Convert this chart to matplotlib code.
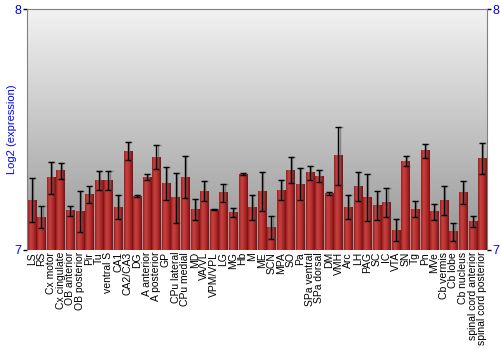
import numpy as np
import matplotlib
matplotlib.use("Agg")
import matplotlib.pyplot as plt
from matplotlib.colors import LinearSegmentedColormap

categories = ["LS", "RS", "Cx motor", "Cx cingulate", "OB anterior", "OB posterior", "Pir", "Tu",
              "ventral S", "CA1", "CA2/CA3", "DG", "A anterior", "A posterior", "GP",
              "CPu lateral", "CPu medial", "MD", "VA/VL", "VPM/VPL", "LG", "MG", "Hb", "M",
              "ME", "SCN", "MPA", "SO", "Pa", "SPa ventral", "SPa dorsal", "DM",
              "VMH", "Arc", "LH", "PAG", "SC", "IC", "VTA", "SN", "Tg", "Pn", "MVe",
              "Cb vermis", "Cb lobe", "Cb nucleus", "spinal cord anterior", "spinal cord posterior"]
values = [7.207, 7.137, 7.300, 7.329, 7.162, 7.158, 7.230, 7.288,
          7.288, 7.178, 7.411, 7.224, 7.303, 7.386, 7.277,
          7.216, 7.302, 7.169, 7.245, 7.169, 7.237, 7.155, 7.315, 7.178,
          7.243, 7.094, 7.248, 7.331, 7.273, 7.320, 7.307, 7.235,
          7.391, 7.178, 7.263, 7.217, 7.184, 7.196, 7.082, 7.369, 7.170, 7.412, 7.159,
          7.207, 7.076, 7.238, 7.118, 7.380]
errors = [0.093, 0.046, 0.066, 0.033, 0.022, 0.085, 0.037, 0.038,
          0.038, 0.049, 0.037, 0.003, 0.011, 0.051, 0.069,
          0.105, 0.088, 0.044, 0.041, 0.002, 0.037, 0.017, 0.003, 0.052,
          0.082, 0.048, 0.042, 0.054, 0.066, 0.029, 0.024, 0.007,
          0.120, 0.051, 0.059, 0.098, 0.061, 0.059, 0.046, 0.019, 0.032, 0.029, 0.033,
          0.060, 0.037, 0.049, 0.022, 0.064]
y_ticks = [7, 8]
y_label = "Log2 (expression)"

fig = plt.figure(figsize=(5, 3.5), dpi=100)
ax = fig.add_axes([0.054, 0.286, 0.92, 0.688])
ymin, ymax = 7, 8
n = len(categories)
x = np.arange(n)
xlim = (-0.5, n - 0.5)
ax.set_xlim(*xlim)
ax.set_ylim(ymin, ymax)

# background gradient: dark at bottom, light at top
bg = np.linspace(0, 1, 256).reshape(-1, 1)
bg_cmap = LinearSegmentedColormap.from_list("bg", ["#959595", "#f2f2f2"])
ax.imshow(bg, aspect="auto", cmap=bg_cmap, extent=(xlim[0], xlim[1], ymin, ymax),
          origin="lower", zorder=0)

# bars with horizontal gradient
width = 0.86
bar_cmap = LinearSegmentedColormap.from_list(
    "bar", [(0, "#9a2020"), (0.3, "#c94242"), (0.6, "#b53030"), (1, "#7a1212")])
grad = np.linspace(0, 1, 64).reshape(1, -1)
bars = ax.bar(x, np.array(values) - ymin, bottom=ymin, width=width, color="none", zorder=1)
for b in bars:
    x0, y0 = b.get_x(), b.get_y()
    w, h = b.get_width(), b.get_height()
    ax.imshow(grad, aspect="auto", cmap=bar_cmap, extent=(x0, x0 + w, y0, y0 + h), zorder=2)
# error bars: shadow then black
ax.errorbar(x + 0.12, values, yerr=errors, fmt="none", ecolor="#606060", elinewidth=1.0,
            capsize=2.2, capthick=1.0, zorder=3, alpha=0.6)
ax.errorbar(x, values, yerr=errors, fmt="none", ecolor="black", elinewidth=1.0,
            capsize=2.2, capthick=1.0, zorder=4)

ax.set_xticks(x)
ax.set_xticklabels(categories, rotation=90, fontsize=7.5, family="Liberation Sans")
ax.tick_params(axis="x", length=0, pad=1.5)
ax.set_yticks(y_ticks)
ax.set_yticklabels([str(t) for t in y_ticks], fontsize=9, family="Liberation Sans")
ax.tick_params(axis="y", length=3, width=1, pad=1, right=True, labelright=True, colors="black",
               labelcolor="blue")
ax.set_ylabel(y_label, color="blue", fontsize=8, family="Liberation Sans", labelpad=-2)
for s in ax.spines.values():
    s.set_color("#808080")
ax.spines["bottom"].set_visible(False)

fig.savefig("out.png", dpi=100)
